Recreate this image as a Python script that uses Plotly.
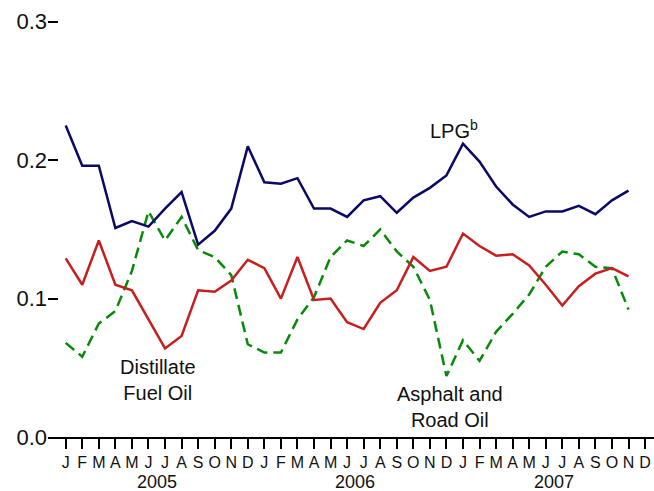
import plotly.graph_objects as go

# Monthly series, January 2005 through November 2007
years = ["2005", "2006", "2007"]
month_letters = ["J", "F", "M", "A", "M", "J", "J", "A", "S", "O", "N", "D"]

lpg = [0.225, 0.196, 0.196, 0.151, 0.156, 0.152, 0.165, 0.177, 0.139, 0.149, 0.165, 0.210,
       0.184, 0.183, 0.187, 0.165, 0.165, 0.159, 0.171, 0.174, 0.162, 0.173, 0.180, 0.189,
       0.212, 0.199, 0.181, 0.168, 0.159, 0.163, 0.163, 0.167, 0.161, 0.171, 0.178]

distillate = [0.129, 0.110, 0.142, 0.110, 0.106, 0.085, 0.064, 0.073, 0.106, 0.105, 0.113, 0.128,
              0.122, 0.100, 0.130, 0.099, 0.100, 0.083, 0.078, 0.097, 0.106, 0.130, 0.120, 0.123,
              0.147, 0.138, 0.131, 0.132, 0.124, 0.110, 0.095, 0.109, 0.118, 0.122, 0.116]

asphalt = [0.068, 0.058, 0.082, 0.091, 0.120, 0.163, 0.142, 0.159, 0.135, 0.130, 0.117, 0.067,
           0.061, 0.061, 0.085, 0.101, 0.130, 0.142, 0.138, 0.150, 0.134, 0.123, 0.099, 0.044,
           0.070, 0.055, 0.076, 0.089, 0.103, 0.123, 0.134, 0.132, 0.123, 0.122, 0.092]

tick_text = month_letters * len(years)
tick_vals = list(range(len(tick_text)))
x = list(range(len(lpg)))

FONT = "Liberation Sans, Arial, sans-serif"

fig = go.Figure()
fig.add_trace(go.Scatter(x=x, y=asphalt, mode="lines",
                         line=dict(color="#078a07", width=2.5, dash="11px,6px")))
fig.add_trace(go.Scatter(x=x, y=distillate, mode="lines",
                         line=dict(color="#c81e1e", width=2.5)))
fig.add_trace(go.Scatter(x=x, y=lpg, mode="lines",
                         line=dict(color="#0a0a66", width=2.5)))

annotations = [
    dict(x=23.43, y=0.222, text="LPG<sup>b</sup>", showarrow=False,
         font=dict(size=20, color="#111", family=FONT)),
    dict(x=5.58, y=0.041, text="Distillate<br>Fuel Oil", showarrow=False,
         font=dict(size=20, color="#111", family=FONT)),
    dict(x=23.2, y=0.0215, text="Asphalt and<br>Road Oil", showarrow=False,
         font=dict(size=20, color="#111", family=FONT)),
]
# Year labels centred under each block of twelve months
for i, yr in enumerate(years):
    annotations.append(dict(x=i * 12 + 5.5, y=-0.1077, xref="x", yref="paper",
                            text=yr, showarrow=False, yanchor="middle",
                            borderpad=0,
                            font=dict(size=18, color="#111", family=FONT)))

fig.update_layout(
    width=654, height=491,
    margin=dict(l=48, r=0, t=19, b=54),
    paper_bgcolor="white", plot_bgcolor="white",
    showlegend=False,
    font=dict(family=FONT, color="#111"),
    annotations=annotations,
    xaxis=dict(range=[-1.07, 35.54], tickmode="array", tickvals=tick_vals,
               ticktext=tick_text, showgrid=False, zeroline=False,
               showline=True, linecolor="black", linewidth=2,
               ticks="outside", ticklen=10, tickwidth=2, tickcolor="black",
               tickfont=dict(size=16, family=FONT, color="#111")),
    yaxis=dict(range=[0, 0.302], tickvals=[0, 0.1, 0.2, 0.3],
               ticktext=["0.0", "0.1", "0.2", "0.3"],
               showgrid=False, zeroline=False, showline=False,
               ticks="inside", ticklen=10, tickwidth=2, tickcolor="black",
               tickfont=dict(size=22, family=FONT, color="#111")),
)

fig.write_html("out.html")
